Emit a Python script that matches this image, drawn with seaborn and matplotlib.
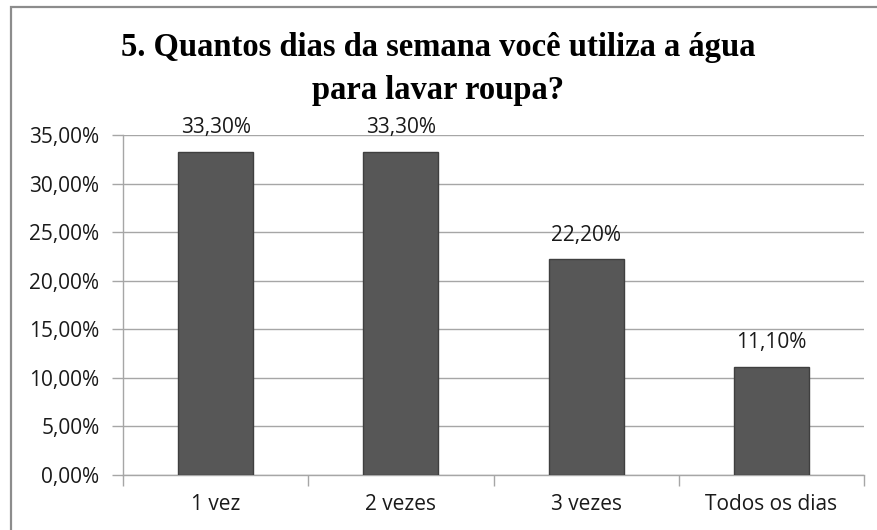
import matplotlib
matplotlib.use('Agg')
import matplotlib.pyplot as plt
import matplotlib.patches as mpatches
from matplotlib.ticker import FuncFormatter, MultipleLocator
import seaborn as sns
import pandas as pd

# Data
categories = ['1 vez', '2 vezes', '3 vezes', 'Todos os dias']
percentages = [33.30, 33.30, 22.20, 11.10]
title = '5. Quantos dias da semana você utiliza a água\npara lavar roupa?'

df = pd.DataFrame({'cat': categories, 'pct': percentages})

sns.set_theme(style='white')
sans = ['Liberation Sans Narrow', 'Open Sans', 'DejaVu Sans']
serif = ['Liberation Serif', 'DejaVu Serif']
plt.rcParams['font.family'] = sans

fig = plt.figure(figsize=(8.77, 5.30), dpi=100)
ax = fig.add_axes([123 / 877, 1 - 475 / 530, (864 - 123) / 877, (475 - 135) / 530])

# outer chart frame
frame = mpatches.Rectangle((11 / 877, -0.1), 1.2, 1 - 7 / 530 + 0.1, transform=fig.transFigure,
                           fill=False, edgecolor='#8c8c8c', linewidth=1.6, zorder=0)
fig.patches.append(frame)

sns.barplot(data=df, x='cat', y='pct', color='#575757', width=0.405, ax=ax,
            edgecolor='#3f3f3f', linewidth=1.0, saturation=1, zorder=3)

ax.set_ylim(0, 35)
ax.set_xlim(-0.5, len(categories) - 0.5)
ax.yaxis.set_major_locator(MultipleLocator(5))
ax.yaxis.set_major_formatter(FuncFormatter(lambda v, p: f'{v:.2f}%'.replace('.', ',')))
ax.grid(axis='y', color='#a6a6a6', linewidth=1.0, zorder=0)
ax.set_axisbelow(True)

for side in ['top', 'right']:
    ax.spines[side].set_visible(False)
for side in ['left', 'bottom']:
    ax.spines[side].set_color('#a6a6a6')
    ax.spines[side].set_linewidth(1.0)

# category separators on the x axis
ax.set_xticks([i - 0.5 for i in range(len(categories) + 1)], minor=True)
ax.tick_params(axis='x', which='minor', length=8, color='#a6a6a6', width=1.0, direction='out')
ax.tick_params(axis='x', which='major', length=0, pad=14, labelsize=15, labelcolor='#1a1a1a')
ax.tick_params(axis='y', length=8, color='#a6a6a6', width=1.0, direction='out', pad=9,
               labelsize=15, labelcolor='#1a1a1a')
ax.tick_params(axis='both', which='both', bottom=True, left=True)

ax.set_xlabel('')
ax.set_ylabel('')

for i, v in enumerate(percentages):
    ax.text(i, v + 2.5, f'{v:.2f}%'.replace('.', ','), ha='center', va='center',
            fontsize=15, color='#1a1a1a')

fig.text(0.5, 1 - 69 / 530, title, ha='center', va='center', fontsize=23.5,
         fontweight='bold', family=serif, color='black', linespacing=1.5)

fig.savefig('out.png', dpi=100)
